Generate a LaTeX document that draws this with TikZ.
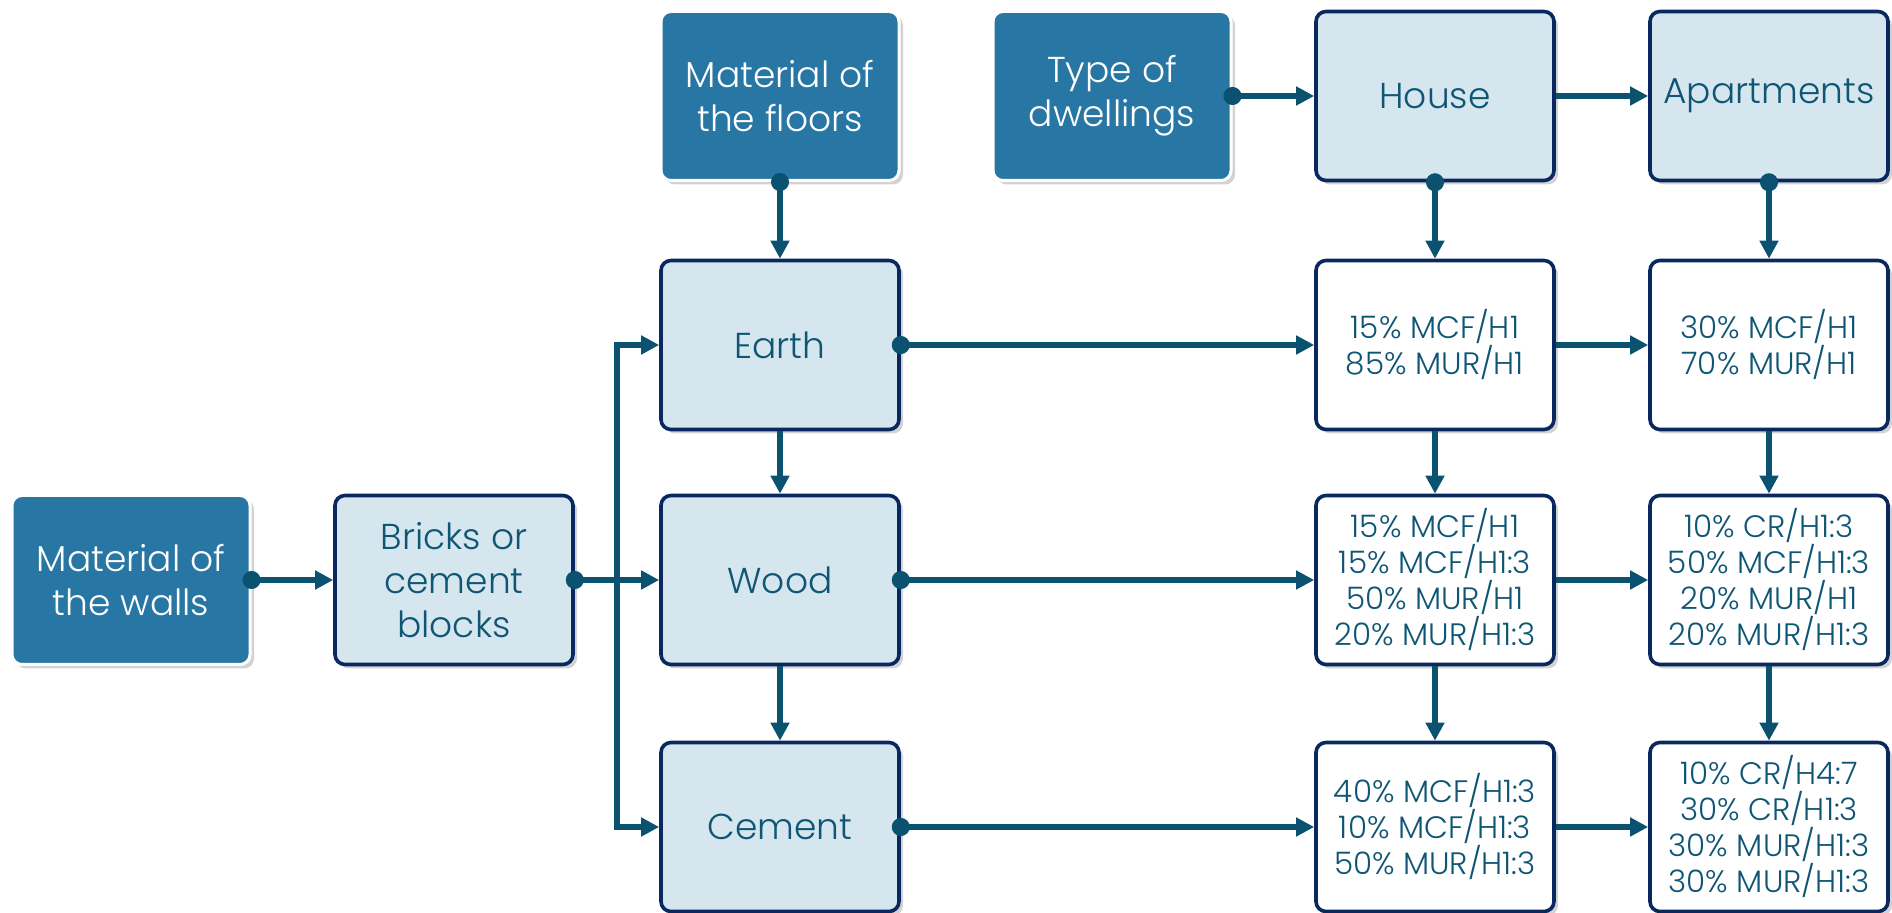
\documentclass[tikz,border=0pt]{standalone}
\usepackage{fontspec}
\setmainfont{Poppins}[UprightFont=* Light]
\usetikzlibrary{arrows.meta,shadows}

\definecolor{boxdark}{RGB}{39,118,164}
\definecolor{boxlight}{RGB}{214,230,239}
\definecolor{boxedge}{RGB}{10,40,96}
\definecolor{linkblue}{RGB}{11,82,112}
\definecolor{textblue}{RGB}{14,86,116}

\tikzset{
  basebox/.style={rectangle, rounded corners=5pt, minimum width=119pt, minimum height=84.5pt,
    align=center, drop shadow={shadow xshift=2pt, shadow yshift=-2pt, opacity=0.35}},
  headbox/.style={basebox, fill=boxdark, draw=white, line width=1.5pt, text=white,
    font=\fontsize{18}{22}\selectfont},
  floorbox/.style={basebox, fill=boxlight, draw=boxedge, line width=1.8pt, text=textblue,
    font=\fontsize{18}{22}\selectfont},
  sharebox/.style={basebox, fill=white, draw=boxedge, line width=1.8pt, text=textblue,
    font=\fontsize{15.5}{18}\selectfont},
  link/.style={draw=linkblue, line width=2.6pt, -{Triangle[length=9pt,width=9pt]}},
  dotlink/.style={link, {Circle[length=9pt]}-{Triangle[length=9pt,width=9pt]}, shorten <=-4.5pt},
}

\begin{document}
\begin{tikzpicture}[x=0.5pt, y=-0.5pt]
    \useasboundingbox (0,0) rectangle (1892,913);

    % Walls and floors
    \node[headbox] (walls) at (131,580) {Material of\\the walls};
    \node[floorbox] (bricks) at (454,580) {Bricks or\\cement\\blocks};
    \node[headbox] (floors) at (780,96) {Material of\\the floors};
    \node[floorbox] (earth) at (780,345) {Earth};
    \node[floorbox] (wood) at (780,580) {Wood};
    \node[floorbox] (cement) at (780,827) {Cement};

    % Dwellings
    \node[headbox] (dwellings) at (1112,96) {Type of\\dwellings};
    \node[floorbox] (house) at (1435,96) {House};
    \node[floorbox] (apart) at (1769,96) {Apartments};

    % Shares per house
    \node[sharebox] (hearth) at (1435,345) {15\% MCF/H1\\85\% MUR/H1};
    \node[sharebox] (hwood) at (1435,580) {15\% MCF/H1\\15\% MCF/H1:3\\50\% MUR/H1\\20\% MUR/H1:3};
    \node[sharebox] (hcement) at (1435,827) {40\% MCF/H1:3\\10\% MCF/H1:3\\50\% MUR/H1:3};

    % Shares per apartments
    \node[sharebox] (aearth) at (1769,345) {30\% MCF/H1\\70\% MUR/H1};
    \node[sharebox] (awood) at (1769,580) {10\% CR/H1:3\\50\% MCF/H1:3\\20\% MUR/H1\\20\% MUR/H1:3};
    \node[sharebox] (acement) at (1769,827) {10\% CR/H4:7\\30\% CR/H1:3\\30\% MUR/H1:3\\30\% MUR/H1:3};

    \coordinate (split) at (617,580);

    % Connectors
    \draw[dotlink] (walls.east) -- (bricks.west);
    \draw[dotlink] (bricks.east) -- (wood.west);
    \draw[link] (split) |- (earth.west);
    \draw[link] (split) |- (cement.west);
    \draw[dotlink] (floors.south) -- (earth.north);
    \draw[link] (earth.south) -- (wood.north);
    \draw[link] (wood.south) -- (cement.north);

    \draw[dotlink] (dwellings.east) -- (house.west);
    \draw[link] (house.east) -- (apart.west);
    \draw[dotlink] (house.south) -- (hearth.north);
    \draw[dotlink] (apart.south) -- (aearth.north);
    \draw[link] (hearth.south) -- (hwood.north);
    \draw[link] (hwood.south) -- (hcement.north);
    \draw[link] (aearth.south) -- (awood.north);
    \draw[link] (awood.south) -- (acement.north);

    \draw[dotlink] (earth.east) -- (hearth.west);
    \draw[dotlink] (wood.east) -- (hwood.west);
    \draw[dotlink] (cement.east) -- (hcement.west);
    \draw[link] (hearth.east) -- (aearth.west);
    \draw[link] (hwood.east) -- (awood.west);
    \draw[link] (hcement.east) -- (acement.west);
\end{tikzpicture}
\end{document}
